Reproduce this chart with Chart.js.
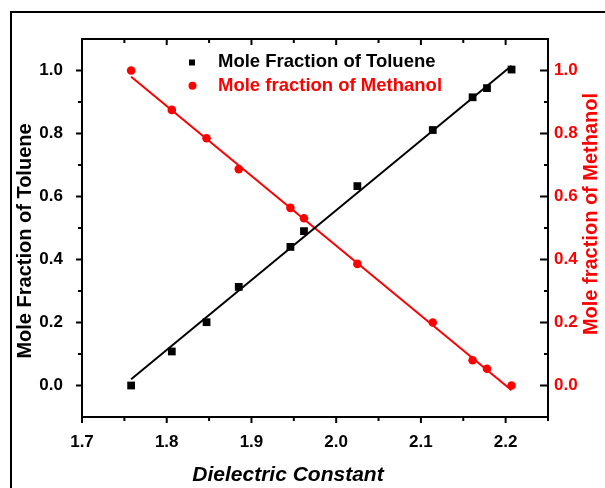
<!DOCTYPE html>
<html>
<head>
<meta charset="utf-8">
<script src="https://cdn.jsdelivr.net/npm/chart.js@4.4.1/dist/chart.umd.min.js"></script>
<style>
  html, body { margin: 0; padding: 0; background: #fff; }
  #wrap { width: 605px; height: 488px; }
</style>
</head>
<body>
<div id="wrap"><canvas id="myChart"></canvas></div>
<script>
"use strict";

const FONT = "'Liberation Sans', Arial, sans-serif";
const RED = "#ff0000";

// Dielectric constant of each mixture
const dielectric = [1.758, 1.806, 1.847, 1.885, 1.946, 1.962, 2.025, 2.114, 2.161, 2.178, 2.207];
const tolueneFraction = [0.0, 0.108, 0.201, 0.313, 0.44, 0.49, 0.633, 0.811, 0.915, 0.944, 1.003];
const methanolFraction = [1.0, 0.875, 0.785, 0.687, 0.564, 0.531, 0.386, 0.2, 0.08, 0.053, 0.0];

// End points of the linear fits
const fitX = [1.758, 2.207];
const tolueneFit = [0.02, 1.015];
const methanolFit = [0.98, -0.015];

// Axis ticks
const xTicks = [1.7, 1.8, 1.9, 2.0, 2.1, 2.2];
const xMinorTicks = [1.75, 1.85, 1.95, 2.05, 2.15, 2.25];
const yTicks = [0.0, 0.2, 0.4, 0.6, 0.8, 1.0];
const yMinorTicks = [0.1, 0.3, 0.5, 0.7, 0.9];

function points(xs, ys) {
    return xs.map((x, i) => ({ x: x, y: ys[i] }));
}

// Box, tick marks, outer border
const framePlugin = {
    id: "frame",
    beforeDraw(chart) {
        const c = chart.ctx;
        c.save();
        c.fillStyle = "#fff";
        c.fillRect(0, 0, chart.width, chart.height);
        c.strokeStyle = "#000";
        c.lineWidth = 2;
        c.beginPath();
        c.moveTo(11, chart.height);
        c.lineTo(11, 12);
        c.lineTo(chart.width, 12);
        c.stroke();
        c.restore();
    },
    afterDatasetsDraw(chart) {
        const c = chart.ctx;
        const a = chart.chartArea;
        const sx = chart.scales.x;
        const sy = chart.scales.y;
        c.save();
        c.strokeStyle = "#000";
        c.lineWidth = 2;
        c.strokeRect(a.left, a.top, a.right - a.left, a.bottom - a.top);
        c.beginPath();
        const xt = (v, len) => {
            const px = sx.getPixelForValue(v);
            c.moveTo(px, a.bottom); c.lineTo(px, a.bottom + len);
            c.moveTo(px, a.top); c.lineTo(px, a.top + len);
        };
        const yt = (v, outLen, inLen) => {
            const py = sy.getPixelForValue(v);
            c.moveTo(a.left, py); c.lineTo(a.left - outLen, py);
            c.moveTo(a.right, py); c.lineTo(a.right - inLen, py);
        };
        xTicks.forEach(v => xt(v, 6));
        xMinorTicks.forEach(v => xt(v, 4));
        yTicks.forEach(v => yt(v, 6, 8));
        yMinorTicks.forEach(v => yt(v, 4, 4));
        c.stroke();
        c.restore();
    }
};

// Axis titles and legend
const labelPlugin = {
    id: "labels",
    afterDraw(chart) {
        const c = chart.ctx;
        const ds = chart.data.datasets;
        c.save();
        c.textBaseline = "middle";

        c.textAlign = "center";
        c.fillStyle = "#000";
        c.font = "italic bold 21px " + FONT;
        c.fillText("Dielectric Constant", 288, 475);

        c.font = "bold 20px " + FONT;
        c.save();
        c.translate(25, 241);
        c.rotate(-Math.PI / 2);
        c.fillText("Mole Fraction of Toluene", 0, 0);
        c.restore();

        c.fillStyle = RED;
        c.save();
        c.translate(591, 214);
        c.rotate(-Math.PI / 2);
        c.fillText("Mole fraction of Methanol", 0, 0);
        c.restore();

        // legend
        c.textAlign = "left";
        c.font = "bold 18.5px " + FONT;
        c.fillStyle = ds[0].backgroundColor;
        c.fillRect(189, 59.5, 6, 6);
        c.fillText(ds[0].label, 218, 62);
        c.fillStyle = ds[1].backgroundColor;
        c.beginPath();
        c.arc(192.5, 85.7, 4, 0, Math.PI * 2);
        c.fill();
        c.fillText(ds[1].label, 218, 86);
        c.restore();
    }
};

const tickFont = { family: FONT, size: 17, weight: "bold" };

const data1 = {
    datasets: [{
        label: "Mole Fraction of Toluene",
        data: points(dielectric, tolueneFraction),
        yAxisID: "y",
        pointStyle: "rect",
        pointRadius: 5.5,
        pointHoverRadius: 5.5,
        backgroundColor: "#000",
        borderColor: "#000",
        borderWidth: 0
    }, {
        label: "Mole fraction of Methanol",
        data: points(dielectric, methanolFraction),
        yAxisID: "y2",
        pointStyle: "circle",
        pointRadius: 4.3,
        pointHoverRadius: 4.3,
        backgroundColor: RED,
        borderColor: RED,
        borderWidth: 0
    }, {
        label: "Toluene fit",
        data: points(fitX, tolueneFit),
        yAxisID: "y",
        showLine: true,
        borderColor: "#000",
        borderWidth: 2,
        pointRadius: 0
    }, {
        label: "Methanol fit",
        data: points(fitX, methanolFit),
        yAxisID: "y2",
        showLine: true,
        borderColor: RED,
        borderWidth: 2,
        pointRadius: 0
    }]
};

const config1 = {
    type: "scatter",
    data: data1,
    options: {
        responsive: true,
        maintainAspectRatio: false,
        animation: false,
        layout: { padding: { top: 39, left: 0, right: 0, bottom: 0 } },
        plugins: {
            legend: { display: false },
            tooltip: { enabled: false }
        },
        scales: {
            x: {
                type: "linear",
                position: "bottom",
                min: 1.7,
                max: 2.25,
                grid: { display: false, drawTicks: false, tickLength: 0 },
                border: { display: false },
                afterBuildTicks: s => { s.ticks = xTicks.map(v => ({ value: v })); },
                afterFit: s => { s.height = 71; },
                ticks: {
                    padding: 15,
                    color: "#000",
                    font: tickFont,
                    maxRotation: 0,
                    autoSkip: false,
                    callback: v => v.toFixed(1)
                }
            },
            y: {
                type: "linear",
                position: "left",
                min: -0.1,
                max: 1.1,
                grid: { display: false, drawTicks: false, tickLength: 0 },
                border: { display: false },
                afterBuildTicks: s => { s.ticks = yTicks.map(v => ({ value: v })); },
                afterFit: s => { s.width = 82; },
                ticks: {
                    padding: 19,
                    color: "#000",
                    font: tickFont,
                    autoSkip: false,
                    callback: v => v.toFixed(1)
                }
            },
            y2: {
                type: "linear",
                position: "right",
                min: -0.1,
                max: 1.1,
                grid: { display: false, drawTicks: false, tickLength: 0 },
                border: { display: false },
                afterBuildTicks: s => { s.ticks = yTicks.map(v => ({ value: v })); },
                afterFit: s => { s.width = 57; },
                ticks: {
                    padding: 6,
                    color: RED,
                    font: tickFont,
                    autoSkip: false,
                    callback: v => v.toFixed(1)
                }
            }
        }
    },
    plugins: [framePlugin, labelPlugin]
};

const ctx1 = document.getElementById("myChart").getContext("2d");
let myChart1 = new Chart(ctx1, config1);
</script>
</body>
</html>
